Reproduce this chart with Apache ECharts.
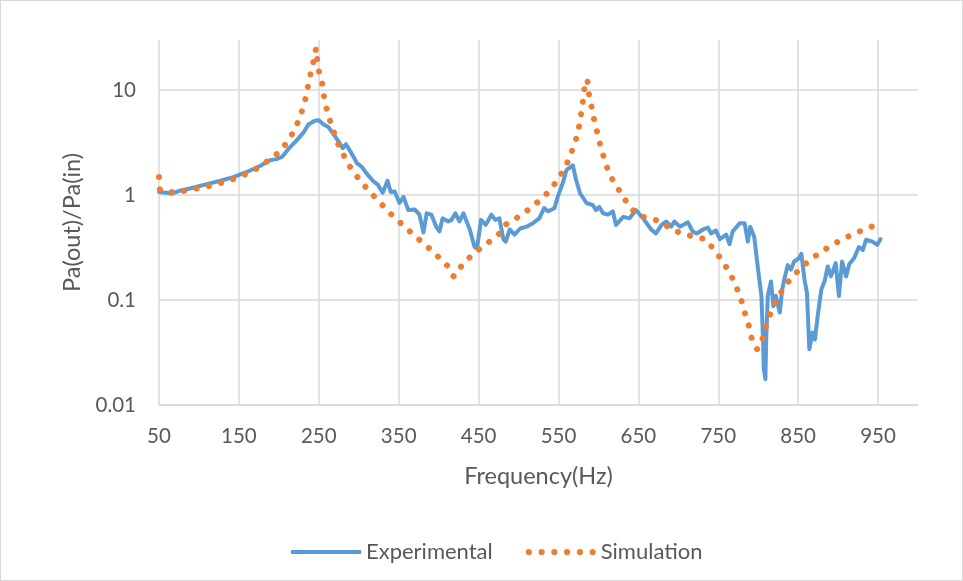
<!DOCTYPE html>
<html>
<head>
<meta charset="utf-8">
<script src="https://cdn.jsdelivr.net/npm/echarts@6/dist/echarts.min.js"></script>
<style>
html,body{margin:0;padding:0;background:#fff;}
#chart{width:963px;height:581px;box-sizing:border-box;border:1px solid #d9d9d9;}
</style>
</head>
<body>
<div id="chart"></div>
<script>
// Frequency (Hz) and Pa(out)/Pa(in)
const expFreq = [50,55,60,66,76,90,101,115,127,143,160,177,189,197,204,212,222,231,237,245,250,256,262,268,274,280,284,287,293,298,304,310,318,324,330,336,340,345,351,356,362,370,376,381,385,391,397,401,405,412,416,421,426,431,435,439,445,448,453,459,466,471,476,481,484,489,495,502,510,518,526,532,537,545,549,556,560,568,572,577,585,593,597,601,606,612,618,622,631,639,647,656,666,672,679,685,691,695,702,712,718,723,731,737,741,747,752,760,764,768,777,783,787,790,795,800,804,806,807,809,810,812,816,819,822,827,830,833,837,841,845,851,854,858,861,864,868,871,875,879,883,887,891,897,901,905,910,914,920,926,931,935,943,949,953];
const expVal = [1.07,1.06,1.05,1.03,1.1,1.16,1.22,1.3,1.37,1.48,1.66,1.9,2.15,2.2,2.31,2.75,3.3,3.95,4.7,5.1,5.15,4.7,4.45,3.85,3.3,2.8,3.05,2.8,2.35,2.0,1.85,1.6,1.36,1.25,1.05,1.37,1.07,1.08,0.84,0.96,0.72,0.73,0.65,0.44,0.67,0.65,0.5,0.45,0.6,0.56,0.58,0.67,0.56,0.67,0.56,0.47,0.32,0.31,0.58,0.52,0.65,0.58,0.6,0.38,0.36,0.47,0.42,0.48,0.5,0.54,0.6,0.75,0.7,0.75,0.96,1.34,1.73,1.92,1.4,1.04,0.84,0.8,0.72,0.77,0.67,0.65,0.7,0.52,0.62,0.6,0.72,0.6,0.47,0.43,0.52,0.56,0.5,0.56,0.5,0.55,0.45,0.43,0.47,0.49,0.43,0.46,0.38,0.42,0.34,0.45,0.54,0.54,0.36,0.5,0.4,0.19,0.11,0.042,0.022,0.0176,0.042,0.11,0.15,0.087,0.11,0.076,0.126,0.162,0.215,0.195,0.233,0.25,0.276,0.156,0.117,0.034,0.049,0.042,0.076,0.126,0.15,0.209,0.168,0.225,0.109,0.233,0.168,0.22,0.25,0.32,0.30,0.375,0.36,0.336,0.38];

const simFreq = [50,51,57,76,91,106,121,136,150,164,177,190,202,211,219,225,230,234,237,240,243.5,245.5,246.5,248,250,254,256,259,263,268,272.5,279.5,286.6,295,304.5,314.5,325,335,346,358,369,381,392,403,414,419,428,438,450,462,474,481,494,507,519,530,541,549.5,558,564,569,574,576.6,579,581,583,585.8,588,591,594,597.5,601,605,609.5,615,623,631,639.5,650,664.5,679.5,691.6,706,720,735,744.5,754,762,769,775,780,784,788.5,792,799,805,809,814,820,827,835,845,856,868,880.5,893,906.6,920,934.5,949];
const simVal = [1.49,1.14,1.06,1.08,1.13,1.19,1.26,1.36,1.49,1.65,1.88,2.23,2.63,3.27,4.1,5.2,6.7,8.7,11.4,14.6,18.9,22,25,20,15.3,11.8,9.1,7.0,5.4,4.2,3.27,2.54,2.0,1.6,1.3,1.06,0.877,0.72,0.6,0.497,0.415,0.348,0.292,0.243,0.2,0.168,0.208,0.251,0.3,0.353,0.41,0.505,0.58,0.675,0.8,0.94,1.15,1.43,1.81,2.29,2.93,3.81,4.95,6.44,8.35,11.0,12.6,9.3,7.2,5.5,4.25,3.27,2.54,1.95,1.52,1.21,0.96,0.775,0.64,0.6,0.55,0.47,0.43,0.40,0.375,0.3,0.244,0.194,0.154,0.12,0.093,0.072,0.056,0.043,0.034,0.042,0.054,0.07,0.089,0.113,0.141,0.173,0.211,0.251,0.293,0.336,0.383,0.427,0.476,0.523];

const xMin = 50, xMax = 1000, xStep = 100;
const yMin = 0.01, yMax = 30;

const expData = expFreq.map((f, i) => [f, expVal[i]]);
const simData = simFreq.map((f, i) => [f, simVal[i]]);

// legend icons: solid bar and a row of six dots
const solidIcon = 'path://M0,0 L70,0 L70,4 L0,4 Z';
let dotIcon = 'path://';
for (let i = 0; i < 6; i++) {
  const cx = 3 + i * 12.4;
  dotIcon += 'M' + (cx - 3) + ',3 a3,3 0 1,0 6,0 a3,3 0 1,0 -6,0 Z ';
}

const FONT = 'Lato, "Liberation Sans", sans-serif';
const chart = echarts.init(document.getElementById('chart'));
chart.setOption({
  animation: false,
  backgroundColor: '#ffffff',
  grid: {left: 158, right: 44, top: 39, bottom: 175},
  xAxis: {
    type: 'value', min: xMin, max: xMax, interval: xStep,
    name: 'Frequency(Hz)', nameLocation: 'middle', nameGap: 59,
    nameTextStyle: {fontFamily: FONT, fontSize: 23.5, color: '#595959'},
    axisLine: {show: true, lineStyle: {color: '#d9d9d9', width: 1.5}},
    axisTick: {show: false},
    axisLabel: {fontFamily: FONT, fontSize: 20.5, color: '#595959', margin: 21, showMaxLabel: false},
    splitLine: {show: true, showMaxLine: false, lineStyle: {color: '#d9d9d9', width: 1.5}}
  },
  yAxis: {
    type: 'log', logBase: 10, min: yMin, max: yMax,
    name: 'Pa(out)/Pa(in)', nameLocation: 'middle', nameGap: 59, nameRotate: 90,
    nameTextStyle: {fontFamily: FONT, fontSize: 23.5, color: '#595959'},
    axisLine: {show: false},
    axisTick: {show: false},
    axisLabel: {fontFamily: FONT, fontSize: 20.5, color: '#595959', margin: 23, showMaxLabel: false,
      formatter: v => v >= 1 ? String(Math.round(v)) : String(+v.toPrecision(1))},
    splitLine: {show: true, showMaxLine: false, lineStyle: {color: '#d9d9d9', width: 1.5}}
  },
  legend: {
    left: 285, top: 535, itemWidth: 70, itemHeight: 20, itemGap: 33,
    textStyle: {fontFamily: FONT, fontSize: 22, color: '#595959'},
    data: [
      {name: 'Experimental', icon: solidIcon, itemStyle: {color: '#5B9BD5'}},
      {name: 'Simulation', icon: dotIcon, itemStyle: {color: '#ED7D31'}}
    ]
  },
  series: [
    {
      name: 'Experimental', type: 'line', data: expData, symbol: 'none',
      lineStyle: {color: '#5B9BD5', width: 4, join: 'round', cap: 'round'},
      itemStyle: {color: '#5B9BD5'}, z: 2
    },
    {
      name: 'Simulation', type: 'line', data: simData, symbol: 'none', smooth: 0.2,
      lineStyle: {color: '#ED7D31', width: 6, type: [0.1, 12.5], cap: 'round'},
      itemStyle: {color: '#ED7D31'}, z: 3
    }
  ]
});
</script>
</body>
</html>
